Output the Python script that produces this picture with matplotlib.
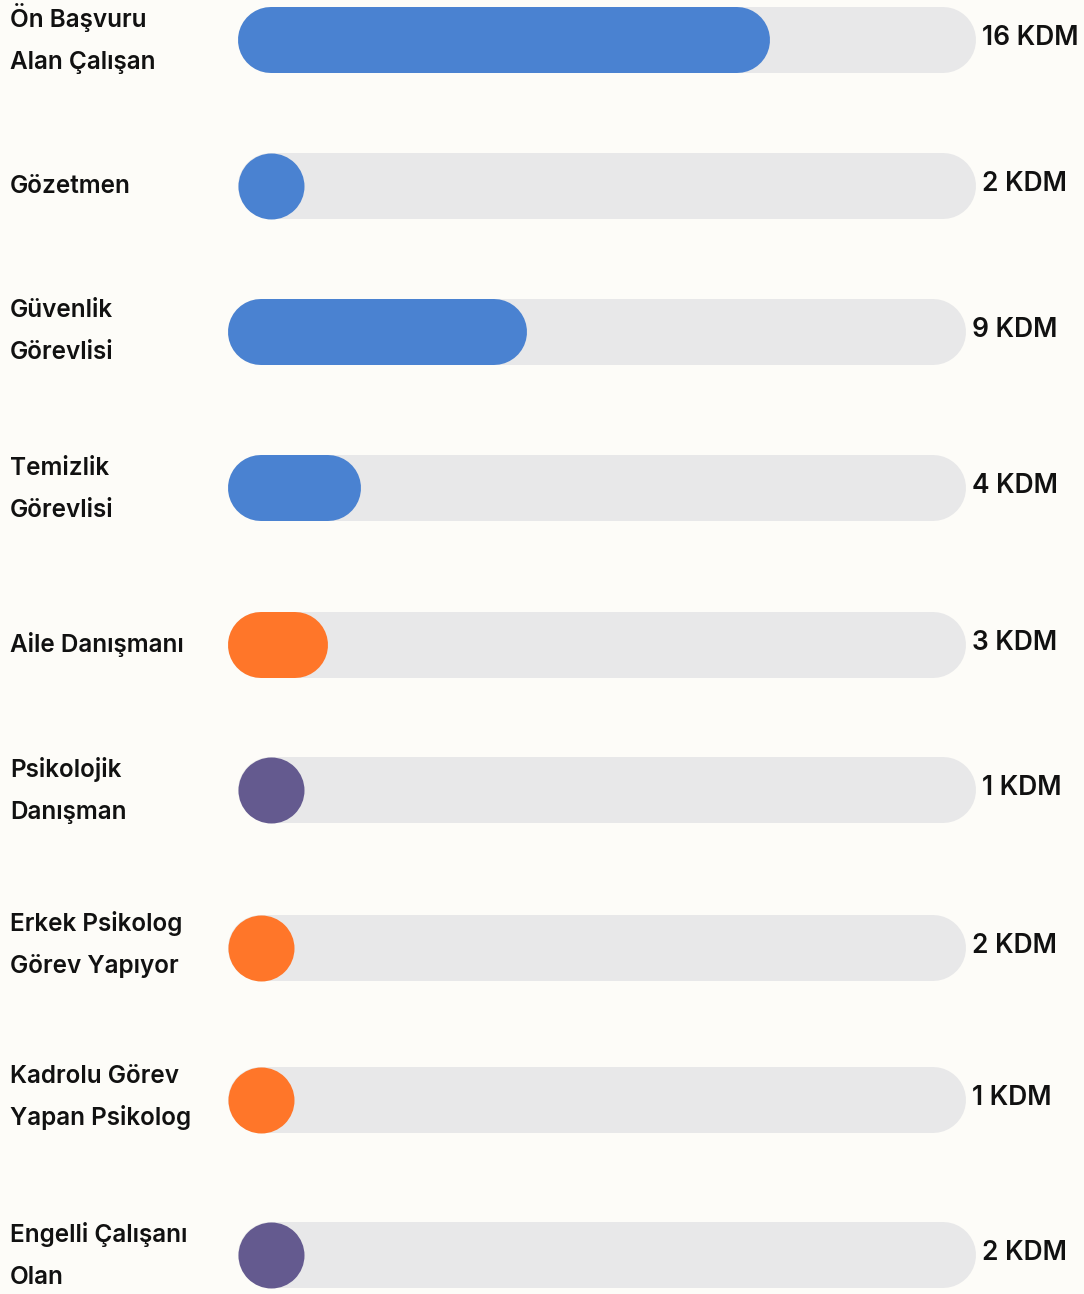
import matplotlib
matplotlib.use("Agg")
import matplotlib.pyplot as plt
from matplotlib.transforms import Affine2D, ScaledTranslation

# --- data -------------------------------------------------------------
labels = [
    ["Ön Başvuru", "Alan Çalışan"],
    ["Gözetmen"],
    ["Güvenlik", "Görevlisi"],
    ["Temizlik", "Görevlisi"],
    ["Aile Danışmanı"],
    ["Psikolojik", "Danışman"],
    ["Erkek Psikolog", "Görev Yapıyor"],
    ["Kadrolu Görev", "Yapan Psikolog"],
    ["Engelli Çalışanı", "Olan"],
]
values = [16, 2, 9, 4, 3, 1, 2, 1, 2]
groups = ["blue", "blue", "blue", "blue", "orange", "purple", "orange", "orange", "purple"]
unit = "KDM"
scale_max = 22.2

# --- layout & style ---------------------------------------------------
W, H, DPI = 1084, 1294, 100
row_y = [40, 186, 332, 488, 645, 790, 948, 1100, 1255]
row_shift = [0, 0, -10, -10, -10, 0, -10, -10, 0]
label_dy = [0, 0, -2, 0, 0, 0, -4, -4, 0]
BAR_H = 66
TRACK_X0, TRACK_LEN = 238, 738
palette = {"blue": "#4A82D1", "orange": "#FF7629", "purple": "#645A8F"}
TRACK_C = "#E8E8E9"
BG = "#FDFCF8"
TXT = "#111111"

plt.rcParams["font.family"] = ["Inter", "DejaVu Sans"]

fig = plt.figure(figsize=(W / DPI, H / DPI), dpi=DPI, facecolor=BG)
ax = fig.add_axes([TRACK_X0 / W, 0, TRACK_LEN / W, 1])
ax.set_xlim(0, scale_max)
ax.set_ylim(H, 0)
ax.axis("off")
ax.set_facecolor(BG)

# pixel transform for figure-level text (origin top-left)
pix = Affine2D().scale(1 / W, -1 / H).translate(0, 1) + fig.transFigure

lw_pt = BAR_H * 72 / DPI
r = (BAR_H / 2) * scale_max / TRACK_LEN  # cap radius in value units

for i, (lab, v, g) in enumerate(zip(labels, values, groups)):
    y = row_y[i]
    tr = ax.transData + ScaledTranslation(row_shift[i] / DPI, 0, fig.dpi_scale_trans)
    # background track
    ax.plot([r, scale_max - r], [y, y], color=TRACK_C, lw=lw_pt,
            solid_capstyle="round", transform=tr, clip_on=False)
    # value bar: a capsule up to the value, or a single dot for short values
    if v - r > r + 0.05:
        ax.plot([r, v - r], [y, y], color=palette[g], lw=lw_pt,
                solid_capstyle="round", transform=tr, clip_on=False)
    else:
        ax.plot([r], [y], marker="o", ms=lw_pt, mew=0, color=palette[g],
                transform=tr, clip_on=False)
    # value label
    vtr = tr + ScaledTranslation(6 / DPI, 0, fig.dpi_scale_trans)
    ax.text(scale_max, y + 5, f"{v} {unit}", transform=vtr, ha="left",
            va="baseline", fontsize=19, fontweight="semibold", color=TXT,
            clip_on=False)
    # category label
    yb = y + label_dy[i]
    if len(lab) == 1:
        fig.text(10, yb + 7, lab[0], transform=pix, ha="left", va="baseline",
                 fontsize=17.5, fontweight="semibold", color=TXT)
    else:
        for j, line in enumerate(lab):
            fig.text(10, yb - 13 + 42 * j, line, transform=pix, ha="left",
                     va="baseline", fontsize=17.5, fontweight="semibold", color=TXT)

fig.savefig("out.png", dpi=DPI, facecolor=BG)
